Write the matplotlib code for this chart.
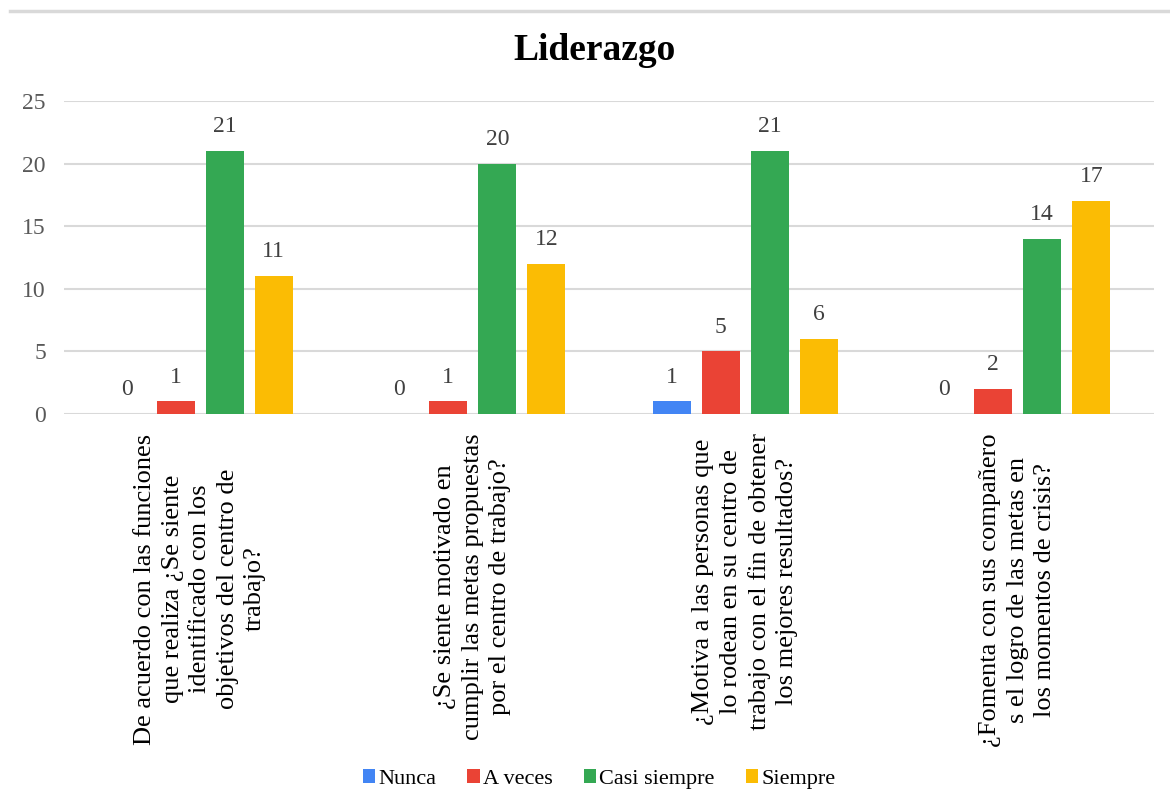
import numpy as np
import matplotlib.pyplot as plt
from matplotlib.lines import Line2D

plt.rcParams['font.family'] = ['Liberation Serif', 'DejaVu Serif']

# categories (pre-wrapped like the original workbook labels)
preguntas = [
    "De acuerdo con las funciones\nque realiza ¿Se siente\nidentificado con los\nobjetivos del centro de\ntrabajo?",
    "¿Se siente motivado en\ncumplir las metas propuestas\npor el centro de trabajo?",
    "¿Motiva a las personas que\nlo rodean en su centro de\ntrabajo con el fin de obtener\nlos mejores resultados?",
    "¿Fomenta con sus compañero\ns el logro de las metas en\nlos momentos de crisis?",
]
series_names = ["Nunca", "A veces", "Casi siempre", "Siempre"]
nunca = [0, 0, 1, 0]
a_veces = [1, 1, 5, 2]
casi_siempre = [21, 20, 21, 14]
siempre = [11, 12, 6, 17]
colores = ["#4285F4", "#EA4335", "#34A853", "#FBBC04"]

valores = [nunca, a_veces, casi_siempre, siempre]

fig = plt.figure(figsize=(11.7, 8.1), dpi=100)
ax = fig.add_axes([0.0547, 0.4889, 0.9316, 0.3864])

x = np.arange(len(preguntas))
ancho = 0.14
paso = 0.18
for i, (nombre, vals, c) in enumerate(zip(series_names, valores, colores)):
    pos = x + (i - 1.5) * paso
    barras = ax.bar(pos, vals, width=ancho, color=c, label=nombre, zorder=3)
    ax.bar_label(barras, labels=[str(v) for v in vals], padding=10,
                 fontsize=17, color="#404040")

ax.set_xlim(-0.5, len(preguntas) - 0.5)
ax.set_ylim(0, 25)
ax.set_yticks(range(0, 26, 5))
ax.yaxis.grid(True, color="#d9d9d9", linewidth=1.5, zorder=0)
ax.tick_params(axis="y", length=0, labelsize=17, pad=13, labelcolor="#595959")
ax.tick_params(axis="x", length=0, pad=14)
for s in ["top", "right", "left", "bottom"]:
    ax.spines[s].set_visible(False)

ax.set_xticks(x)
ax.set_xticklabels(preguntas, rotation=90, fontsize=19, va="top", ha="center",
                   multialignment="center", linespacing=1.32)

fig.text(0.508, 0.938, "Liderazgo", ha="center", va="center", fontsize=27, fontweight="bold")

fig.legend(loc="center", bbox_to_anchor=(0.512, 0.038), ncol=4, frameon=False,
           fontsize=16, handlelength=0.55, handleheight=0.55, handletextpad=0.15,
           columnspacing=1.4)

# thin border line across the top of the chart area
fig.add_artist(Line2D([10 / 1170, 1.0], [1 - 11 / 810, 1 - 11 / 810],
                      color="#d9d9d9", linewidth=2.5, transform=fig.transFigure))

fig.savefig("out.png", dpi=100, facecolor="white")
